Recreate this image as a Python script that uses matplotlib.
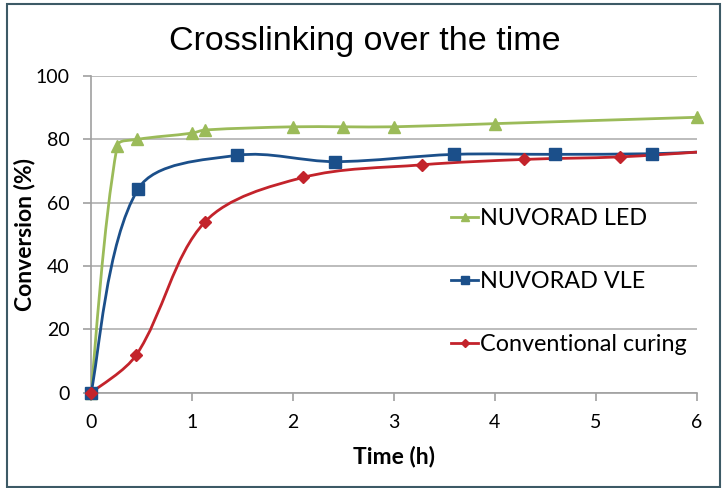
import numpy as np
import matplotlib
matplotlib.use("Agg")
from matplotlib import pyplot as plt
from matplotlib.path import Path
from matplotlib.patches import PathPatch, Rectangle
from matplotlib.lines import Line2D

plt.rcParams['font.family'] = ['Lato', 'DejaVu Sans']

# values
led_t = [0, 0.26, 0.455, 1.0, 1.13, 2.0, 2.5, 3.0, 4.0, 6.0]
led_c = [0, 78, 80, 82, 83, 84, 84, 84, 85, 87]

vle_t = [0, 0.47, 1.45, 2.42, 3.6, 4.6, 5.56, 6.0]
vle_c = [0, 64.5, 75, 73, 75.3, 75.3, 75.5, 76]

conv_t = [0, 0.45, 1.13, 2.1, 3.28, 4.29, 5.24, 6.0]
conv_c = [0, 12, 54, 68, 72, 73.7, 74.5, 76]

series = [
    ("NUVORAD LED", led_t, led_c, "#9BBB59", "^", 8.5, None),
    ("NUVORAD VLE", vle_t, vle_c, "#1B4F8A", "s", 8, slice(0, -1)),
    ("Conventional curing", conv_t, conv_c, "#C3232B", "D", 6, slice(0, -1)),
]

# pixels per data unit, used so the smoothing behaves like it does on screen
sx, sy = 101.0, 3.17


def smooth_path(x, y):
    # Excel-like smoothed line: cubic Bezier, tangents weighted by segment length
    p = np.column_stack([x, y]).astype(float)
    q = p * [sx, sy]
    n = len(p)
    d = np.hypot(*np.diff(q, axis=0).T)
    verts = [p[0]]
    codes = [Path.MOVETO]
    for i in range(n - 1):
        a = i - 1 if i > 0 else i
        b = i + 2 if i + 2 < n else i + 1
        dprev = d[i - 1] if i > 0 else 0.0
        dnext = d[i + 1] if i + 2 < n else 0.0
        f1 = d[i] / (dprev + d[i]) / 3.0
        f2 = d[i] / (d[i] + dnext) / 3.0
        c1 = p[i] + (p[i + 1] - p[a]) * f1 * (0.5 if i == 0 else 1.0)
        c2 = p[i + 1] - (p[b] - p[i]) * f2 * (0.5 if i + 2 >= n else 1.0)
        verts += [c1, c2, p[i + 1]]
        codes += [Path.CURVE4] * 3
    return Path(verts, codes)


fig = plt.figure(figsize=(7.22, 4.88), dpi=100)
ax = fig.add_axes([0.126, 0.195, 0.839, 0.649])

handles = []
for label, t, c, col, mk, ms, me in series:
    ax.add_patch(PathPatch(smooth_path(t, c), facecolor='none', edgecolor=col,
                           lw=2.0, zorder=3, capstyle='round'))
    ax.plot(t, c, linestyle='none', marker=mk, color=col, markersize=ms,
            markevery=me, zorder=4, clip_on=False)
    handles.append(Line2D([], [], color=col, lw=2.0, marker=mk,
                          markersize=ms * 0.75))

ax.set_xlim(0, 6)
ax.set_ylim(0, 100)
ax.set_xticks(range(0, 7))
ax.set_yticks(range(0, 101, 20))
ax.grid(axis='y', color='#b0b0b0', lw=1.2)
ax.set_axisbelow(True)
for s in ['top', 'right']:
    ax.spines[s].set_visible(False)
for s in ['left', 'bottom']:
    ax.spines[s].set_color('#a0a0a0')
    ax.spines[s].set_linewidth(1.2)
ax.tick_params(axis='both', colors='#a0a0a0', length=6, width=1.2,
               labelsize=14, labelcolor='black', pad=9.5)

ax.set_xlabel('Time (h)', fontsize=16.5, fontweight='bold', labelpad=10)
ax.set_ylabel('Conversion (%)', fontsize=16.5, fontweight='bold', va='center')
ax.yaxis.set_label_coords(-0.109, 0.5)
fig.text(0.505, 0.914, 'Crosslinking over the time', ha='center', va='center',
         fontsize=24.5, family='Liberation Sans')

leg = ax.legend(handles, [s[0] for s in series], loc='center left',
                bbox_to_anchor=(0.56, 0.35), frameon=False, fontsize=16.8,
                labelspacing=1.8, handlelength=1.15, handletextpad=0.1)

fig.patches.append(Rectangle((7 / 722, 1 / 488), 713 / 722, 483 / 488,
                             transform=fig.transFigure, fill=False,
                             edgecolor='#3d5a66', lw=1.5))

fig.savefig('out.png', dpi=100)
